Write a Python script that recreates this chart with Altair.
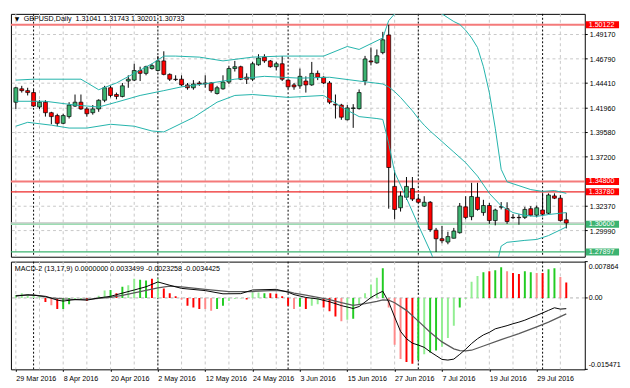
import altair as alt
import pandas as pd

# ---------------- data ----------------
bar_index = list(range(94))
opens = [1.4255, 1.4386, 1.4368, 1.4349, 1.4208, 1.4255, 1.4152, 1.4124, 1.4048, 1.4114,
         1.4217, 1.4255, 1.4189, 1.4152, 1.4189, 1.4274, 1.4396, 1.4330, 1.4311, 1.4462,
         1.4471, 1.4565, 1.4537, 1.4584, 1.4565, 1.4659, 1.4527, 1.4480, 1.4480, 1.4424,
         1.4396, 1.4443, 1.4443, 1.4443, 1.4340, 1.4386, 1.4452, 1.4584, 1.4602, 1.4499,
         1.4480, 1.4621, 1.4696, 1.4659, 1.4602, 1.4631, 1.4471, 1.4424, 1.4415, 1.4462,
         1.4424, 1.4537, 1.4499, 1.4443, 1.4236, 1.4227, 1.4083, 1.4194, 1.4192, 1.4464,
         1.4659, 1.4640, 1.4740, 1.4912, 1.3431, 1.3222, 1.3325, 1.3410, 1.3307, 1.3238,
         1.3276, 1.3003, 1.2919, 1.2887, 1.2924, 1.2978, 1.3231, 1.3135, 1.3325, 1.3175,
         1.3244, 1.3097, 1.3231, 1.3213, 1.3128, 1.3128, 1.3128, 1.3213, 1.3150, 1.3200,
         1.3168, 1.3338, 1.3316, 1.31041]
highs = [1.4405, 1.4415, 1.4396, 1.4377, 1.4274, 1.4274, 1.4161, 1.4142, 1.4142, 1.4255,
         1.4330, 1.4330, 1.4208, 1.4227, 1.4283, 1.4415, 1.4415, 1.4349, 1.4443, 1.4518,
         1.4631, 1.4602, 1.4612, 1.4631, 1.4706, 1.4753, 1.4537, 1.4518, 1.4518, 1.4443,
         1.4471, 1.4462, 1.4518, 1.4452, 1.4415, 1.4518, 1.4612, 1.4659, 1.4612, 1.4537,
         1.4649, 1.4724, 1.4724, 1.4668, 1.4649, 1.4706, 1.4480, 1.4443, 1.4584, 1.4508,
         1.4649, 1.4565, 1.4508, 1.4462, 1.4330, 1.4239, 1.4227, 1.4236, 1.4380, 1.4708,
         1.4790, 1.4771, 1.4943, 1.5012, 1.3588, 1.3382, 1.3523, 1.3523, 1.3335, 1.3335,
         1.3288, 1.3025, 1.3044, 1.2987, 1.3025, 1.3269, 1.3335, 1.3466, 1.3466, 1.3300,
         1.3269, 1.3213, 1.3278, 1.3276, 1.3159, 1.3159, 1.3231, 1.3238, 1.3244, 1.3369,
         1.3363, 1.3363, 1.3347, 1.31743]
lows = [1.4189, 1.4349, 1.4321, 1.4208, 1.4189, 1.4114, 1.4039, 1.4020, 1.4039, 1.4095,
        1.4208, 1.4180, 1.4114, 1.4133, 1.4161, 1.4255, 1.4302, 1.4283, 1.4302, 1.4396,
        1.4462, 1.4462, 1.4518, 1.4574, 1.4555, 1.4518, 1.4462, 1.4462, 1.4415, 1.4377,
        1.4377, 1.4415, 1.4396, 1.4349, 1.4330, 1.4377, 1.4433, 1.4555, 1.4471, 1.4433,
        1.4462, 1.4612, 1.4640, 1.4593, 1.4565, 1.4462, 1.4386, 1.4377, 1.4386, 1.4349,
        1.4415, 1.4471, 1.4433, 1.4236, 1.4095, 1.4083, 1.4077, 1.4004, 1.4183, 1.4421,
        1.4615, 1.4631, 1.4724, 1.3213, 1.3109, 1.3185, 1.3300, 1.3288, 1.3269, 1.3231,
        1.2987, 1.2790, 1.2875, 1.2865, 1.2922, 1.2969, 1.3109, 1.3100, 1.3194, 1.3144,
        1.3065, 1.3050, 1.3206, 1.3065, 1.3112, 1.3056, 1.3112, 1.3138, 1.3128, 1.3138,
        1.3159, 1.3307, 1.3088, 1.30201]
closes = [1.4396, 1.4368, 1.4349, 1.4217, 1.4255, 1.4152, 1.4114, 1.4048, 1.4124, 1.4227,
          1.4255, 1.4189, 1.4142, 1.4189, 1.4274, 1.4396, 1.4321, 1.4311, 1.4415, 1.4480,
          1.4565, 1.4537, 1.4602, 1.4612, 1.4659, 1.4527, 1.4480, 1.4476, 1.4424, 1.4396,
          1.4433, 1.4433, 1.4433, 1.4368, 1.4396, 1.4452, 1.4584, 1.4602, 1.4480, 1.4480,
          1.4631, 1.4687, 1.4659, 1.4602, 1.4631, 1.4480, 1.4405, 1.4405, 1.4508, 1.4424,
          1.4537, 1.4499, 1.4443, 1.4255, 1.4227, 1.4108, 1.4199, 1.4199, 1.4349, 1.4678,
          1.4649, 1.4709, 1.4865, 1.3616, 1.3206, 1.3338, 1.3431, 1.3307, 1.3276, 1.3276,
          1.3009, 1.2919, 1.2900, 1.2940, 1.2994, 1.3238, 1.3128, 1.3332, 1.3206, 1.3244,
          1.3097, 1.3200, 1.3229, 1.3088, 1.3125, 1.3125, 1.3206, 1.3150, 1.3222, 1.3159,
          1.3347, 1.3316, 1.3097, 1.30733]

bb_upper_idx = [0, 3, 11, 14, 17, 20, 23, 25, 27, 31, 35, 40, 45, 52, 56, 58, 62, 63, 64, 65,
                67, 69, 70, 71, 72, 73, 74, 75, 76, 77, 78, 79, 80, 81, 82, 83, 85, 87, 89, 91, 93]
bb_upper = [1.4471, 1.4480, 1.4480, 1.4377, 1.4443, 1.4537, 1.4631, 1.4706, 1.4706, 1.4696,
            1.4659, 1.4696, 1.4706, 1.4706, 1.4800, 1.4771, 1.4884, 1.5053, 1.5119, 1.5222,
            1.5335, 1.5288, 1.5222, 1.5175, 1.5119, 1.5081, 1.5044, 1.5016, 1.4959, 1.4884,
            1.4790, 1.4602, 1.4349, 1.4001, 1.3598, 1.3476, 1.3438, 1.3400, 1.3382, 1.3391, 1.3363]
bb_mid_idx = [0, 5, 10, 14, 17, 21, 25, 28, 33, 37, 42, 48, 53, 58, 62, 63, 64, 65, 66, 67,
              68, 69, 70, 72, 74, 76, 78, 80, 82, 84, 86, 88, 90, 93]
bb_mid = [1.4264, 1.4264, 1.4227, 1.4208, 1.4255, 1.4321, 1.4368, 1.4405, 1.4443, 1.4480,
          1.4508, 1.4490, 1.4499, 1.4462, 1.4433, 1.4405, 1.4358, 1.4302, 1.4236, 1.4171,
          1.4095, 1.4030, 1.3973, 1.3870, 1.3767, 1.3663, 1.3532, 1.3363, 1.3241, 1.3175,
          1.3147, 1.3138, 1.3156, 1.3175]
bb_lower_idx = [0, 2, 6, 9, 12, 16, 20, 23, 25, 26, 30, 32, 34, 37, 40, 46, 52, 55, 58, 61,
                62, 63, 64, 66, 68, 70, 71, 73, 76, 79, 81, 82, 83, 86, 88, 90, 92, 93]
bb_lower = [1.4020, 1.4058, 1.4030, 1.4002, 1.4002, 1.4039, 1.4020, 1.3973, 1.3964, 1.3992,
            1.4105, 1.4180, 1.4255, 1.4321, 1.4330, 1.4302, 1.4321, 1.4208, 1.4114, 1.4095,
            1.4086, 1.3851, 1.3570, 1.3316, 1.3053, 1.2800, 1.2659, 1.2471, 1.2377, 1.2471,
            1.2612, 1.2847, 1.2884, 1.2903, 1.2912, 1.2950, 1.3006, 1.3034]

macd_idx = [0, 2, 5, 7, 8, 10, 12, 14, 16, 18, 20, 22, 24, 26, 28, 32, 35, 38, 40, 44,
            46, 47, 49, 51, 53, 55, 57, 58, 59, 60, 61, 62, 63, 64, 65, 66, 67, 68, 69, 70,
            71, 72, 73, 74, 75, 76, 77, 78, 79, 80, 81, 82, 83, 84, 85, 86, 87, 88, 89, 90,
            91, 92, 93]
macd_vals = [0.00041, 0.00068, 0.00035, -0.00048, -0.00068, -0.00035, -0.00048, 0.0, 0.00035, 0.00104,
             0.00172, 0.00242, 0.00346, 0.00275, 0.00207, 0.00159, 0.00089, 0.00093, 0.00172, 0.00186,
             0.00124, 0.00072, 0.0001, -0.00021, -0.00083, -0.00166, -0.00228, -0.00186, -0.00089, 0.0001,
             0.00083, 0.00145, -0.00089, -0.00414, -0.00725, -0.00884, -0.0098, -0.01021, -0.0107, -0.01166,
             -0.01249, -0.01332, -0.01346, -0.01325, -0.01222, -0.01111, -0.00988, -0.00884, -0.00801, -0.00745,
             -0.00669, -0.00635, -0.006, -0.00559, -0.00524, -0.00482, -0.00428, -0.00379, -0.00325, -0.00269,
             -0.00213, -0.00242, -0.0023258]
signal_idx = [0, 3, 6, 8, 10, 13, 16, 18, 21, 24, 26, 28, 32, 36, 40, 44, 46, 47, 49, 51,
              53, 55, 57, 59, 61, 62, 63, 64, 66, 68, 70, 72, 74, 75, 76, 77, 79, 82, 85, 88,
              90, 93]
signal_vals = [0.00052, 0.00068, 0.0, -0.00021, -0.00035, -0.00021, 0.00014, 0.00056, 0.00139, 0.00217,
               0.00255, 0.00238, 0.00186, 0.00135, 0.00139, 0.00166, 0.00135, 0.00104, 0.00062, 0.00014,
               -0.00035, -0.00104, -0.00159, -0.00124, -0.00076, -0.00041, -0.00048, -0.00104, -0.00269, -0.00503,
               -0.00745, -0.00952, -0.01104, -0.01139, -0.01145, -0.01133, -0.01041, -0.00905, -0.00772, -0.00627,
               -0.00524, -0.0034425]
hist_vals = [0.00062, 0.00104, 0.00083, 0.00062, 0.00031, -0.00089, -0.00159, -0.00242, -0.00242, -0.00139,
             -0.00035, -0.00021, -0.00062, -0.00014, 0.00048, 0.00159, 0.00172, 0.00104, 0.00242, 0.00275,
             0.00414, 0.00393, 0.00379, 0.00414, 0.00414, 0.00207, 0.00104, 0.00035, -0.00035, -0.00172,
             -0.00207, -0.00242, -0.00242, -0.00275, -0.00242, -0.00172, -0.00068, -0.00021, -0.0001, -0.00035,
             0.00118, 0.00118, 0.00104, 0.00104, 0.00089, 0.00035, -0.00172, -0.00242, -0.00193, -0.00242,
             -0.00172, -0.00139, -0.00207, -0.0029, -0.004, -0.00503, -0.0047, -0.00449, -0.00145, 0.00104,
             0.0029, 0.00435, 0.00642, -0.00207, -0.01014, -0.01325, -0.01387, -0.01428, -0.01346, -0.01221,
             -0.0118, -0.01139, -0.01056, -0.00869, -0.006, -0.00207, -0.00021, 0.00352, 0.00476, 0.00559,
             0.0058, 0.006, 0.00662, 0.0058, 0.00538, 0.00518, 0.0058, 0.00559, 0.00538, 0.00538,
             0.00621, 0.00642, 0.00455, 0.0033499]
hist_kind = ["lg", "lg", "lg", "lg", "lg", "r", "lr", "r", "g", "g",
             "lg", "lg", "r", "lg", "lg", "lg", "g", "r", "g", "lg",
             "lg", "g", "g", "r", "lg", "r", "r", "r", "lr", "r",
             "r", "r", "lr", "lr", "g", "g", "lg", "lg", "lg", "r",
             "lg", "lg", "g", "r", "r", "r", "r", "lr", "g", "r",
             "lg", "lg", "r", "r", "r", "lr", "lg", "g", "lg", "lg",
             "lg", "lg", "g", "lr", "lr", "lr", "r", "r", "g", "lg",
             "g", "g", "lg", "lg", "lg", "g", "lg", "lg", "lg", "g",
             "r", "g", "g", "lr", "r", "r", "g", "g", "lr", "r",
             "g", "g", "lr", "r"]

date_label_idx = [0, 8, 16, 24, 32, 40, 48, 56, 64, 72, 80, 88]
date_labels = ["29 Mar 2016", "8 Apr 2016", "20 Apr 2016", "2 May 2016", "12 May 2016",
               "24 May 2016", "3 Jun 2016", "15 Jun 2016", "27 Jun 2016", "7 Jul 2016",
               "19 Jul 2016", "29 Jul 2016"]
grid_idx = list(range(0, 94, 4))
month_sep_idx = [3, 24, 46, 68, 89]
price_grid = [1.49170, 1.46790, 1.44410, 1.41960, 1.39580, 1.37200, 1.32370, 1.29990]
level_prices = [1.50122, 1.34800, 1.33780, 1.30600, 1.27897]
level_kind = ["red", "red", "red", "green", "green"]
macd_scale_top = 0.007864
macd_scale_bottom = -0.015471
title_text = "GBPUSD,Daily\u00a0 1.31041 1.31743 1.30201 1.30733"
macd_text = "MACD-2 (13,17,9) 0.0000000 0.0033499 -0.0023258 -0.0034425"

# ---------------- styles / layout ----------------
W = 586
H_MAIN = 248
H_MACD = 110
FONT = "Liberation Sans"
FS = 7.3
X_DOMAIN = [0, 95.3]
Y_MAIN = [1.2743, 1.5119]
Y_MACD = [macd_scale_bottom, macd_scale_top]
BOX_HALF = 0.0034

xs = alt.Scale(domain=X_DOMAIN, nice=False, zero=False)
ys = alt.Scale(domain=Y_MAIN, nice=False, zero=False)
ym = alt.Scale(domain=Y_MACD, nice=False, zero=False)

candles = pd.DataFrame({"i": bar_index, "o": opens, "h": highs, "l": lows, "c": closes})
candles["fill"] = ["#3CB371" if c >= o else "#FF0000" for o, c in zip(opens, closes)]

bands = pd.concat([
    pd.DataFrame({"i": bb_upper_idx, "v": bb_upper, "band": "upper"}),
    pd.DataFrame({"i": bb_mid_idx, "v": bb_mid, "band": "mid"}),
    pd.DataFrame({"i": bb_lower_idx, "v": bb_lower, "band": "lower"}),
])

grid_df = pd.DataFrame({"i": grid_idx})
sep_df = pd.DataFrame({"i": month_sep_idx})
pgrid_df = pd.DataFrame({"p": price_grid, "t": [f"{p:.5f}" for p in price_grid]})

line_col = {"red": "#F47A7A", "green": "#3CB371"}
box_col = {"red": "#FF0000", "green": "#3CB371"}
lv_rows = []
for p, k in zip(level_prices, level_kind):
    if abs(p - 1.30600) < 1e-9:
        lv_rows.append({"p": p + 0.0013, "col": "#C4C4C4", "w": 1.6})
        lv_rows.append({"p": p, "col": "#9CDCB2", "w": 1.6})
    elif abs(p - 1.33780) < 1e-9:
        lv_rows.append({"p": p, "col": "#EE2A2A", "w": 1.2})
    elif abs(p - 1.27897) < 1e-9:
        lv_rows.append({"p": p, "col": "#3CB371", "w": 1.2})
    else:
        lv_rows.append({"p": p, "col": line_col[k], "w": 2})
lv_df = pd.DataFrame(lv_rows)
box_df = pd.DataFrame({"p": level_prices, "t": [f"{p:.5f}" for p in level_prices],
                       "bc": [box_col[k] for k in level_kind]})

X_main = alt.X("i:Q", scale=xs, axis=None)

vgrid = alt.Chart(grid_df).mark_rule(color="#C8C8C8", strokeDash=[3, 3], strokeWidth=1).encode(x=X_main)
hgrid = alt.Chart(pgrid_df).mark_rule(color="#C8C8C8", strokeDash=[3, 3], strokeWidth=1).encode(
    y=alt.Y("p:Q", scale=ys, axis=None))
seps = alt.Chart(sep_df).mark_rule(color="#000000", strokeDash=[2, 2], strokeWidth=1).encode(x=X_main)
levels = alt.Chart(lv_df).mark_rule().encode(
    y=alt.Y("p:Q", scale=ys, axis=None),
    color=alt.Color("col:N", scale=None),
    strokeWidth=alt.StrokeWidth("w:Q", scale=None))
bb = alt.Chart(bands).mark_line(clip=True, color="#20B2AA", strokeWidth=1).encode(
    x=X_main, y=alt.Y("v:Q", scale=ys, axis=None), detail="band:N", order="i:Q")
wicks = alt.Chart(candles).mark_rule(clip=True, color="black", strokeWidth=1).encode(
    x=X_main, y=alt.Y("l:Q", scale=ys, axis=None), y2="h:Q")
bodies = alt.Chart(candles).mark_bar(clip=True, size=4, stroke="black", strokeWidth=0.7).encode(
    x=X_main, y=alt.Y("o:Q", scale=ys, axis=None), y2="c:Q",
    color=alt.Color("fill:N", scale=None))
tri = alt.Chart(pd.DataFrame({"t": ["\u25bc"]})).mark_text(
    font="DejaVu Sans", fontSize=6, align="left", baseline="middle", color="black").encode(
    x=alt.value(4), y=alt.value(5.5), text="t:N")
title = alt.Chart(pd.DataFrame({"t": [title_text]})).mark_text(
    font=FONT, fontSize=FS, align="left", baseline="middle", color="black").encode(
    x=alt.value(13), y=alt.value(5.5), text="t:N")
rticks = alt.Chart(pgrid_df).mark_rule(color="black", strokeWidth=1).encode(
    x=alt.value(W), x2=alt.value(W + 3), y=alt.Y("p:Q", scale=ys, axis=None))
rlabels = alt.Chart(pgrid_df).mark_text(
    font=FONT, fontSize=FS, align="left", baseline="middle", color="black", dy=1).encode(
    x=alt.value(W + 5), y=alt.Y("p:Q", scale=ys, axis=None), text="t:N")
boxes = alt.Chart(box_df).transform_calculate(
    lo=f"datum.p - {BOX_HALF}", hi=f"datum.p + {BOX_HALF}").mark_rect().encode(
    x=alt.value(W + 1), x2=alt.value(W + 35),
    y=alt.Y("lo:Q", scale=ys, axis=None), y2="hi:Q",
    color=alt.Color("bc:N", scale=None))
boxtext = alt.Chart(box_df).mark_text(
    font=FONT, fontSize=FS, align="left", baseline="middle", color="white").encode(
    x=alt.value(W + 4), y=alt.Y("p:Q", scale=ys, axis=None), text="t:N")

main = alt.layer(vgrid, hgrid, seps, levels, wicks, bodies, bb, tri, title,
                 rticks, rlabels, boxes, boxtext).properties(width=W, height=H_MAIN)

# ---------------- MACD panel ----------------
expr = ""
for v, t in zip(date_label_idx, date_labels):
    expr += f"datum.value == {v} ? '{t}' : "
expr += "''"
xaxis = alt.Axis(values=date_label_idx, labelExpr=expr, labelAlign="left", labelBaseline="top",
                 labelPadding=3, tickSize=2, tickColor="black", domain=False, grid=False,
                 labelFont=FONT, labelFontSize=FS, labelColor="black", labelFlush=False,
                 labelOverlap=False, title=None)
X_m = alt.X("i:Q", scale=xs, axis=xaxis)

hist_colors = {"g": "#22CC22", "lg": "#92EE92", "r": "#FF0000", "lr": "#FF8A8A"}
hist_df = pd.DataFrame({"i": bar_index, "v": hist_vals,
                        "col": [hist_colors[k] for k in hist_kind]})
hist_df["z"] = 0.0
macd_df = pd.DataFrame({"i": macd_idx, "v": macd_vals})
sig_df = pd.DataFrame({"i": signal_idx, "v": signal_vals})

mgrid = alt.Chart(grid_df).mark_rule(color="#C8C8C8", strokeDash=[3, 3], strokeWidth=1).encode(x=X_m)
mseps = alt.Chart(sep_df).mark_rule(color="#000000", strokeDash=[2, 2], strokeWidth=1).encode(x=X_m)
zero = alt.Chart(pd.DataFrame({"v": [0.0]})).mark_rule(
    color="#B0B0B0", strokeDash=[3, 3], strokeWidth=1).encode(y=alt.Y("v:Q", scale=ym, axis=None))
hist = alt.Chart(hist_df).mark_bar(size=2, clip=True).encode(
    x=X_m, y=alt.Y("v:Q", scale=ym, axis=None), y2="z:Q",
    color=alt.Color("col:N", scale=None))
sigl = alt.Chart(sig_df).mark_line(color="#5A5A5A", strokeWidth=1.3, clip=True).encode(
    x=X_m, y=alt.Y("v:Q", scale=ym, axis=None), order="i:Q")
macdl = alt.Chart(macd_df).mark_line(color="#000000", strokeWidth=1, clip=True).encode(
    x=X_m, y=alt.Y("v:Q", scale=ym, axis=None), order="i:Q")
mtitle = alt.Chart(pd.DataFrame({"t": [macd_text]})).mark_text(
    font=FONT, fontSize=FS, align="left", baseline="middle", color="black").encode(
    x=alt.value(4), y=alt.value(7.5), text="t:N")


def mlabel(val, txt, dy):
    return alt.Chart(pd.DataFrame({"v": [val], "t": [txt]})).mark_text(
        font=FONT, fontSize=FS, align="left", baseline="middle", color="black", dy=dy).encode(
        x=alt.value(W + 4), y=alt.Y("v:Q", scale=ym, axis=None), text="t:N")


mlab_top = mlabel(macd_scale_top, f"{macd_scale_top:.6f}", 6)
mlab_zero = mlabel(0.0, "0.00", 0)
mlab_bot = mlabel(macd_scale_bottom, f"{macd_scale_bottom:.6f}", -4)
mticks = alt.Chart(pd.DataFrame({"v": [macd_scale_top, 0.0, macd_scale_bottom]})).mark_rule(
    color="black").encode(x=alt.value(W), x2=alt.value(W + 3), y=alt.Y("v:Q", scale=ym, axis=None))

macd = alt.layer(mgrid, mseps, zero, hist, sigl, macdl, mtitle, mticks,
                 mlab_top, mlab_zero, mlab_bot).properties(width=W, height=H_MACD)

chart = alt.vconcat(main, macd, spacing=3).resolve_scale(
    x="independent", y="independent", color="independent", strokeWidth="independent"
).properties(
    padding={"left": 1, "top": 1, "right": 0, "bottom": 0},
    background="white",
).configure_view(stroke="black", strokeWidth=1)

chart.save("out.html", embed_options={"renderer": "svg", "actions": False})
